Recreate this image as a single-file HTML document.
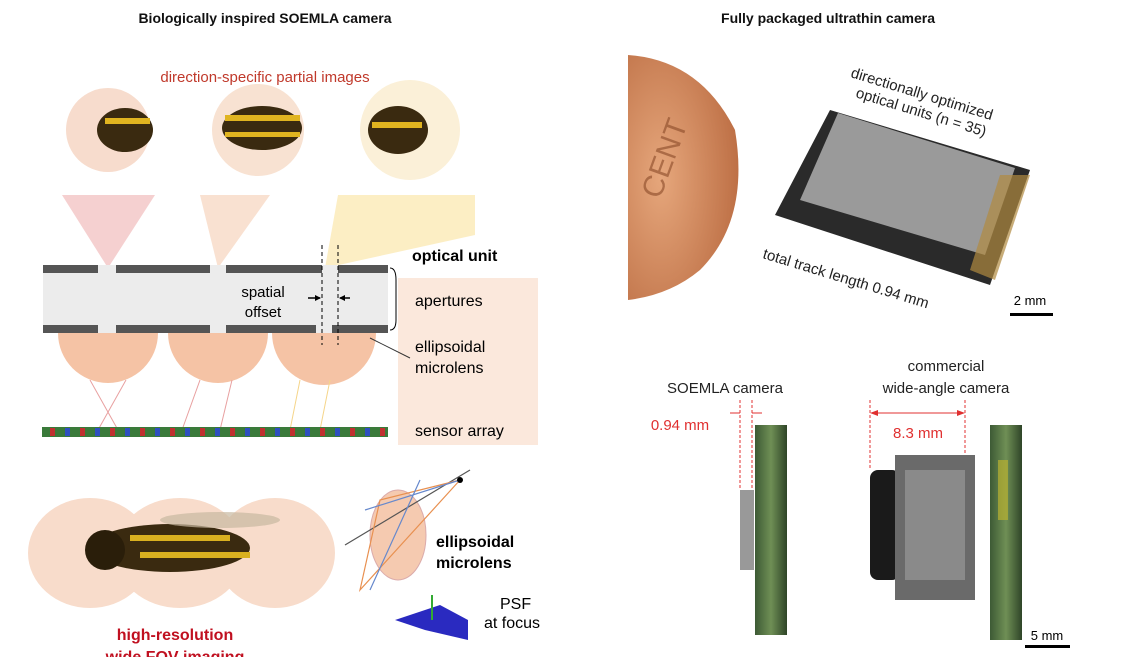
<!DOCTYPE html>
<html><head><meta charset="utf-8"><style>
body{margin:0;width:1131px;height:657px;background:#fff;overflow:hidden;font-family:"Liberation Sans",sans-serif;}
svg{display:block}
</style></head><body>
<svg width="1131" height="657" viewBox="0 0 1131 657" xmlns="http://www.w3.org/2000/svg" font-family="Liberation Sans, sans-serif">
<defs>
<radialGradient id="pen" cx="0.3" cy="0.5" r="0.8"><stop offset="0" stop-color="#e6a77c"/><stop offset="1" stop-color="#b8683e"/></radialGradient>
<linearGradient id="pcb" x1="0" x2="1"><stop offset="0" stop-color="#3d5a35"/><stop offset="0.5" stop-color="#6f8f55"/><stop offset="1" stop-color="#2f4528"/></linearGradient>
</defs>
<text x="265" y="23" font-size="14" font-weight="bold" text-anchor="middle" fill="#111">Biologically inspired SOEMLA camera</text>
<text x="828" y="23" font-size="14" font-weight="bold" text-anchor="middle" fill="#111">Fully packaged ultrathin camera</text>
<text x="265" y="82" font-size="15" text-anchor="middle" fill="#c0392b">direction-specific partial images</text>
<!-- partial image circles -->
<circle cx="108" cy="130" r="42" fill="#f7dccd"/>
<circle cx="258" cy="130" r="46" fill="#f8e2d2"/>
<circle cx="410" cy="130" r="50" fill="#fbf0d8"/>
<g fill="#3a2a10"><ellipse cx="125" cy="130" rx="28" ry="22"/><ellipse cx="262" cy="128" rx="40" ry="22"/><ellipse cx="398" cy="130" rx="30" ry="24"/></g>
<g fill="#e0b420"><rect x="105" y="118" width="45" height="6"/><rect x="225" y="115" width="75" height="6"/><rect x="225" y="132" width="75" height="5"/><rect x="372" y="122" width="50" height="6"/></g>
<!-- cones -->
<polygon points="62,195 155,195 108,268" fill="#f3c4c4" opacity="0.8"/>
<polygon points="200,195 270,195 218,268" fill="#f8d9c6" opacity="0.8"/>
<polygon points="338,195 475,195 475,235 325,268" fill="#fbeab5" opacity="0.8"/>
<!-- optical unit -->
<rect x="43" y="270" width="345" height="58" fill="#ececec"/>
<rect x="43" y="265" width="345" height="8" fill="#555"/>
<rect x="43" y="325" width="345" height="8" fill="#555"/>
<g fill="#ececec"><rect x="98" y="265" width="18" height="8"/><rect x="210" y="265" width="16" height="8"/><rect x="322" y="265" width="16" height="8"/><rect x="98" y="325" width="18" height="8"/><rect x="210" y="325" width="16" height="8"/><rect x="316" y="325" width="16" height="8"/></g>
<path d="M58 333 A50 50 0 0 0 158 333Z" fill="#f2b48f" opacity="0.8"/>
<path d="M168 333 A50 50 0 0 0 268 333Z" fill="#f2b48f" opacity="0.8"/>
<path d="M272 333 A52 52 0 0 0 376 333Z" fill="#f2b48f" opacity="0.8"/>
<g stroke="#e8a0a0" stroke-width="1" fill="none"><path d="M90 380 L118 430 M126 380 L98 430"/><path d="M200 380 L182 430 M232 380 L220 430"/><path d="M300 380 L290 430 M330 380 L320 430" stroke="#f5d58a"/></g>
<line x1="322" y1="245" x2="322" y2="345" stroke="#000" stroke-dasharray="4,3"/>
<line x1="338" y1="245" x2="338" y2="345" stroke="#000" stroke-dasharray="4,3"/>
<path d="M308 298 L320 298 M350 298 L340 298" stroke="#000" stroke-width="1.5"/>
<polygon points="321,298 315,295 315,301"/><polygon points="339,298 345,295 345,301"/>
<text x="263" y="297" font-size="15" text-anchor="middle">spatial</text>
<text x="263" y="317" font-size="15" text-anchor="middle">offset</text>
<!-- sensor -->
<rect x="42" y="427" width="346" height="10" fill="#3a7a3a"/>
<g fill="#c03030"><rect x="50" y="428" width="5" height="8"/><rect x="80" y="428" width="5" height="8"/><rect x="110" y="428" width="5" height="8"/><rect x="140" y="428" width="5" height="8"/><rect x="170" y="428" width="5" height="8"/><rect x="200" y="428" width="5" height="8"/><rect x="230" y="428" width="5" height="8"/><rect x="260" y="428" width="5" height="8"/><rect x="290" y="428" width="5" height="8"/><rect x="320" y="428" width="5" height="8"/><rect x="350" y="428" width="5" height="8"/><rect x="380" y="428" width="5" height="8"/></g>
<g fill="#3050c0"><rect x="65" y="428" width="5" height="8"/><rect x="95" y="428" width="5" height="8"/><rect x="125" y="428" width="5" height="8"/><rect x="155" y="428" width="5" height="8"/><rect x="185" y="428" width="5" height="8"/><rect x="215" y="428" width="5" height="8"/><rect x="245" y="428" width="5" height="8"/><rect x="275" y="428" width="5" height="8"/><rect x="305" y="428" width="5" height="8"/><rect x="335" y="428" width="5" height="8"/><rect x="365" y="428" width="5" height="8"/></g>
<!-- labels box -->
<rect x="398" y="278" width="140" height="167" fill="#fbe8dc"/>
<path d="M390 268 Q396 268 396 280 L396 320 Q396 330 390 330" fill="none" stroke="#000"/>
<line x1="370" y1="338" x2="410" y2="358" stroke="#333"/>
<text x="412" y="261" font-size="16" font-weight="bold">optical unit</text>
<text x="415" y="306" font-size="16">apertures</text>
<text x="415" y="352" font-size="16">ellipsoidal</text>
<text x="415" y="373" font-size="16">microlens</text>
<text x="415" y="436" font-size="16">sensor array</text>
<!-- bottom wasp -->
<ellipse cx="90" cy="553" rx="62" ry="55" fill="#f8dccb"/>
<ellipse cx="180" cy="553" rx="65" ry="55" fill="#f8dccb"/>
<ellipse cx="275" cy="553" rx="60" ry="55" fill="#f8dccb"/>
<ellipse cx="170" cy="548" rx="80" ry="24" fill="#3a2a10"/>
<circle cx="105" cy="550" r="20" fill="#2a1e0a"/>
<g fill="#d9b020"><rect x="130" y="535" width="100" height="6"/><rect x="140" y="552" width="110" height="6"/></g>
<ellipse cx="220" cy="520" rx="60" ry="8" fill="#c8b8a0" opacity="0.7"/>
<text x="175" y="640" font-size="16" font-weight="bold" text-anchor="middle" fill="#c01020">high-resolution</text>
<text x="175" y="662" font-size="16" font-weight="bold" text-anchor="middle" fill="#c01020">wide FOV imaging</text>
<!-- ellipsoidal diagram -->
<ellipse cx="398" cy="535" rx="28" ry="45" fill="#f2b48f" opacity="0.7" stroke="#c88"/>
<g stroke-width="1.2" fill="none"><path d="M345 545 L470 470" stroke="#555"/><path d="M360 590 L460 480 L380 500 Z" stroke="#e89050"/><path d="M365 510 L460 480 M370 590 L420 480" stroke="#6688cc"/></g>
<circle cx="460" cy="480" r="3"/>
<text x="436" y="547" font-size="16" font-weight="bold">ellipsoidal</text>
<text x="436" y="568" font-size="16" font-weight="bold">microlens</text>
<polygon points="395,620 440,605 468,620 468,640 425,630" fill="#2a2ac0"/>
<line x1="432" y1="595" x2="432" y2="620" stroke="#3a3" stroke-width="2"/>
<text x="500" y="609" font-size="16">PSF</text>
<text x="484" y="628" font-size="16">at focus</text>
<!-- right top: penny & chip -->
<path d="M628 55 Q700 60 735 130 Q750 220 700 270 Q670 295 628 300 Z" fill="url(#pen)"/>
<text x="660" y="200" font-size="30" fill="#8a4a28" transform="rotate(-70 660 200)" opacity="0.6">CENT</text>
<polygon points="830,110 1030,170 990,285 775,215" fill="#2a2a2a"/>
<polygon points="838,113 1015,168 985,255 800,200" fill="#9a9a9a"/>
<polygon points="1000,175 1030,175 995,280 970,270" fill="#b08a40" opacity="0.7"/>
<text x="850" y="77" font-size="15" fill="#222" transform="rotate(17 850 77)">directionally optimized</text>
<text x="855" y="97" font-size="15" fill="#222" transform="rotate(17 855 97)">optical units (n = 35)</text>
<text x="762" y="258" font-size="15" fill="#222" transform="rotate(17 762 258)">total track length 0.94 mm</text>
<text x="1030" y="305" font-size="13" text-anchor="middle">2 mm</text>
<rect x="1010" y="313" width="43" height="3" fill="#000"/>
<!-- right bottom -->
<text x="725" y="393" font-size="15" text-anchor="middle" fill="#222">SOEMLA camera</text>
<text x="946" y="371" font-size="15" text-anchor="middle" fill="#222">commercial</text>
<text x="946" y="393" font-size="15" text-anchor="middle" fill="#222">wide-angle camera</text>
<line x1="740" y1="400" x2="740" y2="490" stroke="#e03030" stroke-dasharray="3,2"/>
<line x1="752" y1="400" x2="752" y2="490" stroke="#e03030" stroke-dasharray="3,2"/>
<line x1="870" y1="400" x2="870" y2="470" stroke="#e03030" stroke-dasharray="3,2"/>
<line x1="965" y1="400" x2="965" y2="470" stroke="#e03030" stroke-dasharray="3,2"/>
<path d="M872 413 L963 413" stroke="#e03030"/><polygon points="870,413 878,410 878,416" fill="#e03030"/><polygon points="965,413 957,410 957,416" fill="#e03030"/>
<path d="M730 413 L740 413 M762 413 L752 413" stroke="#e03030"/>
<text x="680" y="430" font-size="15" text-anchor="middle" fill="#e03030">0.94 mm</text>
<text x="918" y="438" font-size="15" text-anchor="middle" fill="#e03030">8.3 mm</text>
<rect x="740" y="490" width="14" height="80" fill="#999"/>
<rect x="755" y="425" width="32" height="210" fill="url(#pcb)"/>
<rect x="870" y="470" width="30" height="110" rx="8" fill="#1a1a1a"/>
<rect x="895" y="455" width="80" height="145" fill="#6a6a6a"/>
<rect x="905" y="470" width="60" height="110" fill="#8a8a8a"/>
<rect x="990" y="425" width="32" height="215" fill="url(#pcb)"/>
<rect x="998" y="460" width="10" height="60" fill="#b8b030" opacity="0.7"/>
<text x="1047" y="640" font-size="13" text-anchor="middle">5 mm</text>
<rect x="1025" y="645" width="45" height="3" fill="#000"/>
</svg>
</body></html>
